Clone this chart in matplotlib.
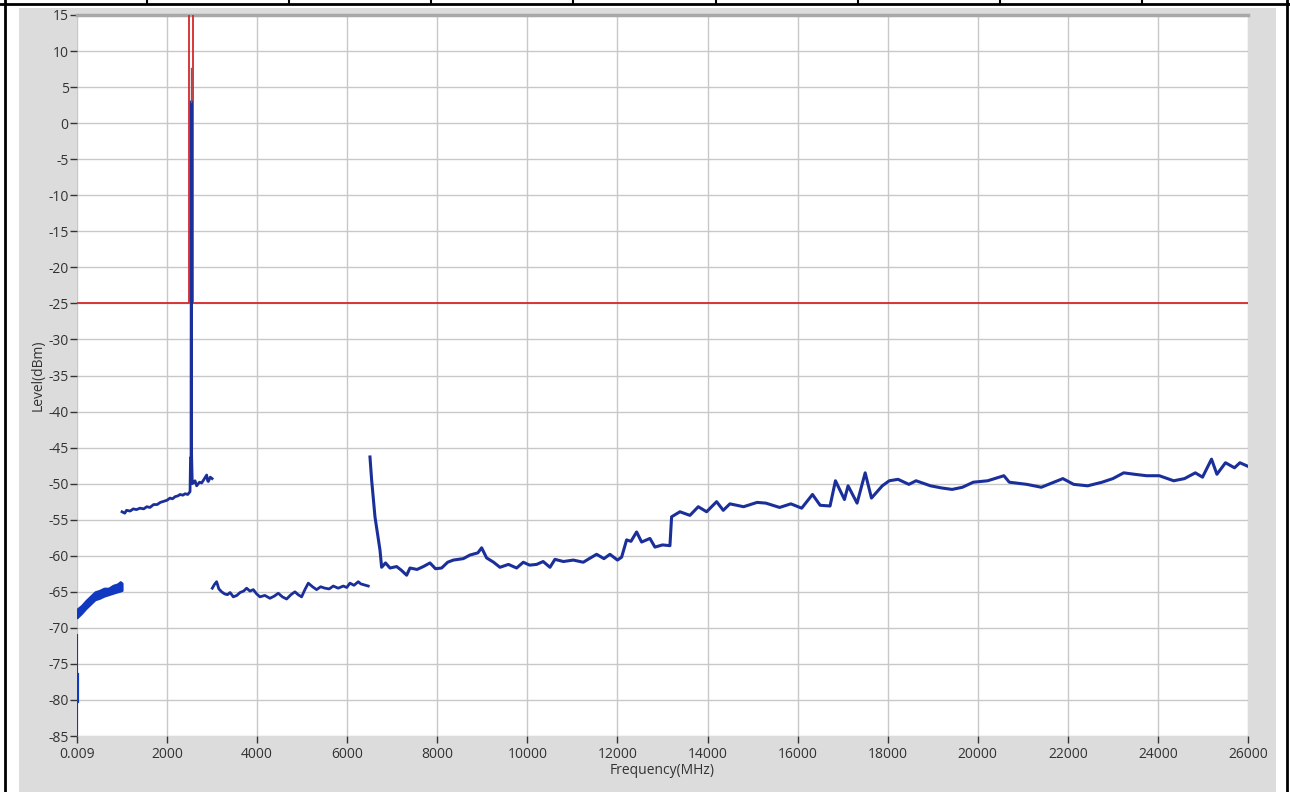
import matplotlib
matplotlib.use('Agg')
import matplotlib.pyplot as plt
from matplotlib.patches import Rectangle
from matplotlib.lines import Line2D

# ---- 数据 (频率 MHz, 电平 dBm) ----
# 0.009 MHz 处的竖线
seg1_x = [0.009, 0.009]
seg1_y = [-85.0, -71.0]
seg1b_y = [-80.2, -76.5]

# 0.009 - 1000 MHz (噪声带: 下沿 / 上沿)
seg2_x = [0.009, 100, 200, 300, 400, 500, 600, 700, 800, 900, 960, 1000]
seg2_lo = [-68.6, -68.0, -67.3, -66.7, -66.1, -65.9, -65.6, -65.4, -65.2, -65.0, -64.9, -64.8]
seg2_hi = [-67.4, -66.9, -66.2, -65.6, -65.0, -64.8, -64.5, -64.5, -64.1, -63.9, -63.6, -63.8]

# 1000 - 3000 MHz (含 2.5 GHz 发射)
seg3_x = [1000, 1060, 1100, 1180, 1250, 1320, 1400, 1480, 1550, 1620, 1700, 1780, 1850, 1950,
          2000, 2065, 2120, 2180, 2240, 2290, 2350, 2400, 2460, 2510,
          2520, 2532, 2538, 2545, 2560, 2583, 2620, 2657, 2720, 2768, 2820, 2879, 2900, 2916, 2960, 3000]
seg3_y = [-53.9, -54.1, -53.7, -53.8, -53.5, -53.6, -53.4, -53.5, -53.2, -53.3, -52.9, -52.9, -52.6, -52.4,
          -52.3, -52.0, -52.1, -51.8, -51.7, -51.5, -51.6, -51.4, -51.5, -51.1,
          -46.4, -46.4, 3.0, -46.0, -50.0, -49.9, -49.6, -50.3, -49.8, -49.9, -49.4, -48.8, -49.6, -49.7, -49.1, -49.3]
spike_x = [2538, 2538]
spike_y = [3.0, 7.6]

# 3000 - 6500 MHz
seg4_x = [3004, 3050, 3100, 3150, 3211, 3280, 3340, 3400, 3470, 3550, 3620, 3700, 3766, 3840, 3914,
          3990, 4062, 4170, 4284, 4380, 4469, 4560, 4654, 4750, 4839, 4910, 4987, 5060, 5135, 5230,
          5320, 5410, 5505, 5600, 5690, 5800, 5912, 5990, 6060, 6150, 6245, 6300, 6356, 6410, 6467]
seg4_y = [-64.5, -64.0, -63.6, -64.6, -65.0, -65.3, -65.4, -65.1, -65.7, -65.5, -65.1, -64.9, -64.5, -64.9, -64.7,
          -65.3, -65.7, -65.5, -65.9, -65.6, -65.2, -65.7, -66.0, -65.4, -65.0, -65.4, -65.7, -64.7, -63.8, -64.3,
          -64.7, -64.3, -64.5, -64.6, -64.2, -64.5, -64.2, -64.4, -63.8, -64.1, -63.6, -63.9, -64.0, -64.1, -64.2]

# 6500 - 26000 MHz
seg5_x = [6505, 6542, 6616, 6727, 6764, 6850, 6949, 7097, 7200, 7319, 7393, 7550, 7689, 7837,
          7960, 8096, 8230, 8355, 8577, 8725, 8900, 8984, 9095, 9250, 9391, 9580, 9761, 9909,
          10050, 10205, 10350, 10501, 10612, 10800, 11019, 11241, 11400, 11537, 11700, 11833,
          12000, 12092, 12203, 12300, 12425, 12536, 12721, 12832, 13000, 13165, 13202, 13387,
          13609, 13794, 13979, 14201, 14349, 14497, 14800, 15100, 15294, 15600, 15850, 16090,
          16330, 16500, 16720, 16840, 17040, 17120, 17320, 17500, 17640, 17880, 18035, 18230,
          18470, 18630, 18950, 19200, 19430, 19660, 19900, 20220, 20580, 20700, 21090, 21410,
          21890, 22130, 22440, 22760, 23000, 23240, 23480, 23750, 24030, 24350, 24590, 24830,
          24990, 25190, 25310, 25500, 25700, 25820, 26000]
seg5_y = [-46.3, -49.5, -54.6, -59.2, -61.6, -61.0, -61.7, -61.5, -62.0, -62.7, -61.7, -61.9, -61.5, -61.0,
          -61.8, -61.7, -60.9, -60.6, -60.4, -59.9, -59.6, -58.9, -60.3, -60.9, -61.6, -61.2, -61.7, -60.9,
          -61.3, -61.2, -60.8, -61.6, -60.5, -60.8, -60.6, -60.9, -60.3, -59.8, -60.4, -59.8,
          -60.6, -60.2, -57.8, -58.0, -56.7, -58.1, -57.6, -58.8, -58.5, -58.6, -54.6, -53.9,
          -54.4, -53.2, -53.9, -52.5, -53.7, -52.8, -53.2, -52.6, -52.7, -53.3, -52.8, -53.4,
          -51.5, -53.0, -53.1, -49.6, -52.2, -50.3, -52.7, -48.5, -52.0, -50.3, -49.6, -49.4,
          -50.1, -49.6, -50.3, -50.6, -50.8, -50.5, -49.8, -49.6, -48.9, -49.8, -50.1, -50.5,
          -49.3, -50.1, -50.3, -49.8, -49.3, -48.5, -48.7, -48.9, -48.9, -49.6, -49.3, -48.5,
          -49.1, -46.6, -48.7, -47.1, -47.8, -47.1, -47.6]

# 限值线
limit_x = [0.009, 2490, 2490, 2582, 2582, 26000]
limit_y = [-25, -25, 40, 40, -25, -25]

xticks = [0.009, 2000, 4000, 6000, 8000, 10000, 12000, 14000, 16000, 18000, 20000, 22000, 24000, 26000]
xtick_labels = ['0.009', '2000', '4000', '6000', '8000', '10000', '12000', '14000',
                '16000', '18000', '20000', '22000', '24000', '26000']
yticks = list(range(-85, 16, 5))

W, H = 1290, 792
plt.rcParams['font.family'] = ['Open Sans', 'DejaVu Sans']
plt.rcParams['axes.unicode_minus'] = False

fig = plt.figure(figsize=(W / 100, H / 100), dpi=100, facecolor='white')

# 灰色面板与外框
fig.patches.append(Rectangle((19 / W, 0), (1276 - 19) / W, (H - 8) / H,
                             transform=fig.transFigure, facecolor='#dcdcdc', edgecolor='none', zorder=-5))
def fline(x0, y0, x1, y1, lw=2):
    fig.lines.append(Line2D([x0 / W, x1 / W], [1 - y0 / H, 1 - y1 / H], transform=fig.transFigure,
                            color='black', lw=lw, zorder=5))
fline(0, 4, W, 4)
fline(5, 0, 5, H)
fline(1287, 0, 1287, H)
for dx in [147, 289, 431, 573, 716, 858, 1000, 1142]:
    fline(dx, 0, dx, 4, lw=1.5)

ax = fig.add_axes([77 / W, (H - 736) / H, 1171 / W, 721 / H])
ax.set_zorder(1)
ax.set_facecolor('white')

blue = '#1a2f9a'
ax.plot(limit_x, limit_y, color='#d42a2a', lw=1.3, zorder=3)
ax.plot(seg1_x, seg1_y, color='#1038c0', lw=1.5, zorder=4)
ax.plot(seg1_x, seg1b_y, color='#1038c0', lw=3, zorder=4)
ax.fill_between(seg2_x, seg2_lo, seg2_hi, color='#1038c0', lw=1.5, edgecolor='#1038c0', zorder=4)
ax.plot(seg3_x, seg3_y, color=blue, lw=2, zorder=4)
ax.plot(spike_x, spike_y, color='#606080', lw=1, zorder=4)
ax.plot(seg4_x, seg4_y, color=blue, lw=2, zorder=4)
ax.plot(seg5_x, seg5_y, color=blue, lw=2.2, zorder=4)

ax.set_xlim(0.009, 26000)
ax.set_ylim(-85, 15)
ax.set_xticks(xticks)
ax.set_xticklabels(xtick_labels)
ax.set_yticks(yticks)
ax.grid(True, color='#c8c8c8', lw=1)
ax.set_axisbelow(True)

for side in ['left', 'right', 'bottom']:
    ax.spines[side].set_visible(False)
ax.spines['top'].set_color('#a8a8a8')
ax.spines['top'].set_linewidth(2.5)

ax.tick_params(axis='both', colors='#333333', labelsize=10, direction='out', length=5, width=1)
ax.tick_params(axis='x', pad=3)
ax.tick_params(axis='y', pad=1)

ax.set_xlabel('Frequency(MHz)', fontsize=10, color='#333333', labelpad=1)
ax.set_ylabel('Level(dBm)', fontsize=10, color='#333333', labelpad=2)

fig.savefig('out.png', dpi=100, facecolor='white')
